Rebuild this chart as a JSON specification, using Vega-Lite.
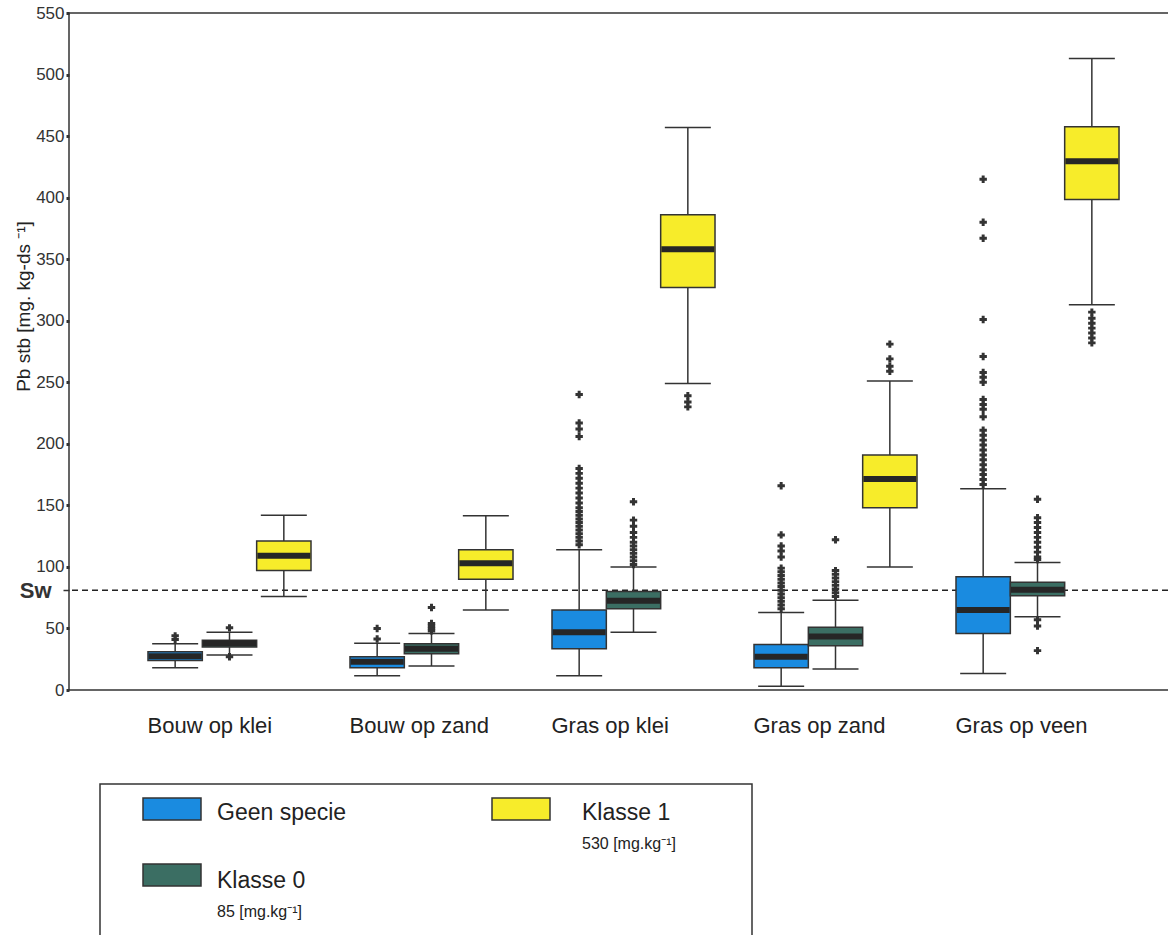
{
  "$schema": "https://vega.github.io/schema/vega-lite/v6.json",
  "padding": {"left": 13, "top": 3, "right": 0, "bottom": 0},
  "background": "white",
  "config": {"font": "Liberation Sans", "concat": {"spacing": 46}},
  "datasets": {
    "sw": [{"v": 81}],
    "stats": [
      {"cat": "Bouw op klei", "series": "Geen specie", "lw": 18, "q1": 24, "med": 27.5, "q3": 31, "uw": 37.5},
      {"cat": "Bouw op klei", "series": "Klasse 0", "lw": 28.5, "q1": 35, "med": 38, "q3": 40.5, "uw": 47},
      {"cat": "Bouw op klei", "series": "Klasse 1", "lw": 76, "q1": 97, "med": 109, "q3": 121, "uw": 142},
      {"cat": "Bouw op zand", "series": "Geen specie", "lw": 11.5, "q1": 18, "med": 23, "q3": 27, "uw": 38},
      {"cat": "Bouw op zand", "series": "Klasse 0", "lw": 19.5, "q1": 29.5, "med": 33.5, "q3": 37.5, "uw": 46},
      {"cat": "Bouw op zand", "series": "Klasse 1", "lw": 65, "q1": 90, "med": 103, "q3": 114, "uw": 141.5},
      {"cat": "Gras op klei", "series": "Geen specie", "lw": 11.5, "q1": 33.5, "med": 47, "q3": 65, "uw": 114},
      {"cat": "Gras op klei", "series": "Klasse 0", "lw": 47, "q1": 66, "med": 72.5, "q3": 80, "uw": 100},
      {"cat": "Gras op klei", "series": "Klasse 1", "lw": 249, "q1": 327, "med": 358, "q3": 386, "uw": 457},
      {"cat": "Gras op zand", "series": "Geen specie", "lw": 3, "q1": 18, "med": 27, "q3": 37, "uw": 63},
      {"cat": "Gras op zand", "series": "Klasse 0", "lw": 17, "q1": 36, "med": 43.5, "q3": 51, "uw": 73},
      {"cat": "Gras op zand", "series": "Klasse 1", "lw": 100, "q1": 148, "med": 171.5, "q3": 191, "uw": 251},
      {"cat": "Gras op veen", "series": "Geen specie", "lw": 13.5, "q1": 46, "med": 65, "q3": 92, "uw": 163.5},
      {"cat": "Gras op veen", "series": "Klasse 0", "lw": 59.5, "q1": 76.5, "med": 81.5, "q3": 87.5, "uw": 103.5},
      {"cat": "Gras op veen", "series": "Klasse 1", "lw": 313, "q1": 398.5, "med": 429.5, "q3": 457.5, "uw": 513}
    ],
    "outliers": [
      {"cat": "Bouw op klei", "series": "Geen specie", "v": 41},
      {"cat": "Bouw op klei", "series": "Geen specie", "v": 44},
      {"cat": "Bouw op klei", "series": "Klasse 0", "v": 50.5},
      {"cat": "Bouw op klei", "series": "Klasse 0", "v": 27},
      {"cat": "Bouw op zand", "series": "Geen specie", "v": 41.5},
      {"cat": "Bouw op zand", "series": "Geen specie", "v": 50},
      {"cat": "Bouw op zand", "series": "Klasse 0", "v": 48},
      {"cat": "Bouw op zand", "series": "Klasse 0", "v": 50},
      {"cat": "Bouw op zand", "series": "Klasse 0", "v": 52},
      {"cat": "Bouw op zand", "series": "Klasse 0", "v": 54},
      {"cat": "Bouw op zand", "series": "Klasse 0", "v": 67},
      {"cat": "Gras op klei", "series": "Geen specie", "v": 240},
      {"cat": "Gras op klei", "series": "Geen specie", "v": 217},
      {"cat": "Gras op klei", "series": "Geen specie", "v": 212},
      {"cat": "Gras op klei", "series": "Geen specie", "v": 206},
      {"cat": "Gras op klei", "series": "Geen specie", "v": 180},
      {"cat": "Gras op klei", "series": "Geen specie", "v": 176},
      {"cat": "Gras op klei", "series": "Geen specie", "v": 172},
      {"cat": "Gras op klei", "series": "Geen specie", "v": 168},
      {"cat": "Gras op klei", "series": "Geen specie", "v": 164},
      {"cat": "Gras op klei", "series": "Geen specie", "v": 160},
      {"cat": "Gras op klei", "series": "Geen specie", "v": 156},
      {"cat": "Gras op klei", "series": "Geen specie", "v": 152},
      {"cat": "Gras op klei", "series": "Geen specie", "v": 148},
      {"cat": "Gras op klei", "series": "Geen specie", "v": 145},
      {"cat": "Gras op klei", "series": "Geen specie", "v": 142},
      {"cat": "Gras op klei", "series": "Geen specie", "v": 139},
      {"cat": "Gras op klei", "series": "Geen specie", "v": 136},
      {"cat": "Gras op klei", "series": "Geen specie", "v": 133},
      {"cat": "Gras op klei", "series": "Geen specie", "v": 130},
      {"cat": "Gras op klei", "series": "Geen specie", "v": 127},
      {"cat": "Gras op klei", "series": "Geen specie", "v": 124},
      {"cat": "Gras op klei", "series": "Geen specie", "v": 121},
      {"cat": "Gras op klei", "series": "Geen specie", "v": 118},
      {"cat": "Gras op klei", "series": "Klasse 0", "v": 153},
      {"cat": "Gras op klei", "series": "Klasse 0", "v": 138},
      {"cat": "Gras op klei", "series": "Klasse 0", "v": 133},
      {"cat": "Gras op klei", "series": "Klasse 0", "v": 128},
      {"cat": "Gras op klei", "series": "Klasse 0", "v": 124},
      {"cat": "Gras op klei", "series": "Klasse 0", "v": 120},
      {"cat": "Gras op klei", "series": "Klasse 0", "v": 117},
      {"cat": "Gras op klei", "series": "Klasse 0", "v": 114},
      {"cat": "Gras op klei", "series": "Klasse 0", "v": 111},
      {"cat": "Gras op klei", "series": "Klasse 0", "v": 108},
      {"cat": "Gras op klei", "series": "Klasse 0", "v": 105},
      {"cat": "Gras op klei", "series": "Klasse 0", "v": 102},
      {"cat": "Gras op klei", "series": "Klasse 1", "v": 239},
      {"cat": "Gras op klei", "series": "Klasse 1", "v": 234},
      {"cat": "Gras op klei", "series": "Klasse 1", "v": 230},
      {"cat": "Gras op zand", "series": "Geen specie", "v": 166},
      {"cat": "Gras op zand", "series": "Geen specie", "v": 126},
      {"cat": "Gras op zand", "series": "Geen specie", "v": 117},
      {"cat": "Gras op zand", "series": "Geen specie", "v": 113},
      {"cat": "Gras op zand", "series": "Geen specie", "v": 108},
      {"cat": "Gras op zand", "series": "Geen specie", "v": 99},
      {"cat": "Gras op zand", "series": "Geen specie", "v": 96},
      {"cat": "Gras op zand", "series": "Geen specie", "v": 93},
      {"cat": "Gras op zand", "series": "Geen specie", "v": 90},
      {"cat": "Gras op zand", "series": "Geen specie", "v": 87},
      {"cat": "Gras op zand", "series": "Geen specie", "v": 84},
      {"cat": "Gras op zand", "series": "Geen specie", "v": 81},
      {"cat": "Gras op zand", "series": "Geen specie", "v": 78},
      {"cat": "Gras op zand", "series": "Geen specie", "v": 75},
      {"cat": "Gras op zand", "series": "Geen specie", "v": 72},
      {"cat": "Gras op zand", "series": "Geen specie", "v": 69},
      {"cat": "Gras op zand", "series": "Geen specie", "v": 66},
      {"cat": "Gras op zand", "series": "Klasse 0", "v": 122},
      {"cat": "Gras op zand", "series": "Klasse 0", "v": 97},
      {"cat": "Gras op zand", "series": "Klasse 0", "v": 94},
      {"cat": "Gras op zand", "series": "Klasse 0", "v": 91},
      {"cat": "Gras op zand", "series": "Klasse 0", "v": 88},
      {"cat": "Gras op zand", "series": "Klasse 0", "v": 85},
      {"cat": "Gras op zand", "series": "Klasse 0", "v": 82},
      {"cat": "Gras op zand", "series": "Klasse 0", "v": 79},
      {"cat": "Gras op zand", "series": "Klasse 0", "v": 76},
      {"cat": "Gras op zand", "series": "Klasse 1", "v": 281},
      {"cat": "Gras op zand", "series": "Klasse 1", "v": 269},
      {"cat": "Gras op zand", "series": "Klasse 1", "v": 263},
      {"cat": "Gras op zand", "series": "Klasse 1", "v": 259},
      {"cat": "Gras op veen", "series": "Geen specie", "v": 415},
      {"cat": "Gras op veen", "series": "Geen specie", "v": 380},
      {"cat": "Gras op veen", "series": "Geen specie", "v": 367},
      {"cat": "Gras op veen", "series": "Geen specie", "v": 301},
      {"cat": "Gras op veen", "series": "Geen specie", "v": 271},
      {"cat": "Gras op veen", "series": "Geen specie", "v": 258},
      {"cat": "Gras op veen", "series": "Geen specie", "v": 254},
      {"cat": "Gras op veen", "series": "Geen specie", "v": 250},
      {"cat": "Gras op veen", "series": "Geen specie", "v": 236},
      {"cat": "Gras op veen", "series": "Geen specie", "v": 232},
      {"cat": "Gras op veen", "series": "Geen specie", "v": 228},
      {"cat": "Gras op veen", "series": "Geen specie", "v": 222},
      {"cat": "Gras op veen", "series": "Geen specie", "v": 211},
      {"cat": "Gras op veen", "series": "Geen specie", "v": 207},
      {"cat": "Gras op veen", "series": "Geen specie", "v": 203},
      {"cat": "Gras op veen", "series": "Geen specie", "v": 199},
      {"cat": "Gras op veen", "series": "Geen specie", "v": 195},
      {"cat": "Gras op veen", "series": "Geen specie", "v": 191},
      {"cat": "Gras op veen", "series": "Geen specie", "v": 187},
      {"cat": "Gras op veen", "series": "Geen specie", "v": 183},
      {"cat": "Gras op veen", "series": "Geen specie", "v": 179},
      {"cat": "Gras op veen", "series": "Geen specie", "v": 175},
      {"cat": "Gras op veen", "series": "Geen specie", "v": 171},
      {"cat": "Gras op veen", "series": "Geen specie", "v": 167},
      {"cat": "Gras op veen", "series": "Klasse 0", "v": 155},
      {"cat": "Gras op veen", "series": "Klasse 0", "v": 140},
      {"cat": "Gras op veen", "series": "Klasse 0", "v": 136},
      {"cat": "Gras op veen", "series": "Klasse 0", "v": 132},
      {"cat": "Gras op veen", "series": "Klasse 0", "v": 128},
      {"cat": "Gras op veen", "series": "Klasse 0", "v": 124},
      {"cat": "Gras op veen", "series": "Klasse 0", "v": 120},
      {"cat": "Gras op veen", "series": "Klasse 0", "v": 116},
      {"cat": "Gras op veen", "series": "Klasse 0", "v": 112},
      {"cat": "Gras op veen", "series": "Klasse 0", "v": 108},
      {"cat": "Gras op veen", "series": "Klasse 0", "v": 106},
      {"cat": "Gras op veen", "series": "Klasse 0", "v": 57},
      {"cat": "Gras op veen", "series": "Klasse 0", "v": 52},
      {"cat": "Gras op veen", "series": "Klasse 0", "v": 32},
      {"cat": "Gras op veen", "series": "Klasse 1", "v": 307},
      {"cat": "Gras op veen", "series": "Klasse 1", "v": 302},
      {"cat": "Gras op veen", "series": "Klasse 1", "v": 298},
      {"cat": "Gras op veen", "series": "Klasse 1", "v": 294},
      {"cat": "Gras op veen", "series": "Klasse 1", "v": 290},
      {"cat": "Gras op veen", "series": "Klasse 1", "v": 286},
      {"cat": "Gras op veen", "series": "Klasse 1", "v": 282}
    ],
    "legend": [
      {"series": "Geen specie", "col": "1", "row": "1", "sub": ""},
      {"series": "Klasse 1", "col": "2", "row": "1", "sub": "530 [mg.kg⁻¹]"},
      {"series": "Klasse 0", "col": "1", "row": "2", "sub": "85 [mg.kg⁻¹]"}
    ]
  },
  "vconcat": [
    {
      "width": 1129,
      "height": 677,
      "view": {"stroke": "#333", "strokeWidth": 1.5},
      "layer": [
        {
          "data": {"name": "sw"},
          "mark": {"type": "rule", "strokeDash": [6, 4], "color": "#222", "strokeWidth": 1.5},
          "encoding": {
            "y": {
              "field": "v", "type": "quantitative",
              "scale": {"domain": [0, 550], "nice": false, "zero": true},
              "axis": {
                "title": "Pb stb [mg. kg-ds ⁻¹]",
                "titleFont": "Liberation Sans", "titleFontSize": 19, "titleFontWeight": "normal", "titleColor": "#222",
                "titleX": -46, "titleY": 293, "titleAngle": -90, "titleAlign": "center", "titleBaseline": "middle",
                "values": [0, 50, 100, 150, 200, 250, 300, 350, 400, 450, 500, 550, 81],
                "labelExpr": "datum.value == 81 ? 'Sw' : datum.label",
                "labelOverlap": false,
                "labelColor": "#333",
                "labelFont": {"condition": {"test": "datum.value == 81", "value": "Liberation Sans"}, "value": "Liberation Sans Narrow, Liberation Sans"},
                "labelFontSize": {"condition": {"test": "datum.value == 81", "value": 22}, "value": 17},
                "labelFontWeight": {"condition": {"test": "datum.value == 81", "value": "bold"}, "value": "normal"},
                "labelPadding": {"condition": {"test": "datum.value == 81", "value": 8}, "value": 2},
                "tickSize": {"condition": {"test": "datum.value == 81", "value": 10}, "value": 3},
                "tickWidth": {"condition": {"test": "datum.value == 81", "value": 1.5}, "value": 3},
                "tickDash": {"condition": {"test": "datum.value == 81", "value": [6, 4]}, "value": []},
                "tickColor": "#333",
                "domain": false,
                "grid": false
              }
            }
          }
        },
        {
          "data": {"name": "stats"},
          "mark": {"type": "rule", "color": "#333", "strokeWidth": 1.5},
          "encoding": {
            "x": {
              "field": "cat", "type": "nominal",
              "sort": ["Bouw op klei", "Bouw op zand", "Gras op klei", "Gras op zand", "Gras op veen"],
              "scale": {"paddingInner": 0.193, "paddingOuter": 0.391},
              "axis": {
                "title": null, "labelAngle": 0, "labelAlign": "left", "labelOffset": -82, "labelBaseline": "top",
                "labelFontSize": 22, "labelFont": "Liberation Sans", "labelColor": "#222", "labelPadding": 25,
                "ticks": false, "domain": false
              }
            },
            "xOffset": {"field": "series", "type": "nominal", "sort": ["Geen specie", "Klasse 0", "Klasse 1"], "scale": {"paddingInner": 0, "paddingOuter": 0}},
            "y": {"field": "lw", "type": "quantitative"},
            "y2": {"field": "uw"}
          }
        },
        {
          "data": {"name": "stats"},
          "mark": {"type": "tick", "color": "#333", "thickness": 1.5, "size": 46, "opacity": 1},
          "encoding": {
            "x": {"field": "cat", "type": "nominal", "sort": ["Bouw op klei", "Bouw op zand", "Gras op klei", "Gras op zand", "Gras op veen"]},
            "xOffset": {"field": "series", "type": "nominal", "sort": ["Geen specie", "Klasse 0", "Klasse 1"]},
            "y": {"field": "uw", "type": "quantitative"}
          }
        },
        {
          "data": {"name": "stats"},
          "mark": {"type": "tick", "color": "#333", "thickness": 1.5, "size": 46, "opacity": 1},
          "encoding": {
            "x": {"field": "cat", "type": "nominal", "sort": ["Bouw op klei", "Bouw op zand", "Gras op klei", "Gras op zand", "Gras op veen"]},
            "xOffset": {"field": "series", "type": "nominal", "sort": ["Geen specie", "Klasse 0", "Klasse 1"]},
            "y": {"field": "lw", "type": "quantitative"}
          }
        },
        {
          "data": {"name": "stats"},
          "mark": {"type": "bar", "stroke": "#333", "strokeWidth": 1.5, "opacity": 1},
          "encoding": {
            "x": {"field": "cat", "type": "nominal", "sort": ["Bouw op klei", "Bouw op zand", "Gras op klei", "Gras op zand", "Gras op veen"]},
            "xOffset": {"field": "series", "type": "nominal", "sort": ["Geen specie", "Klasse 0", "Klasse 1"]},
            "y": {"field": "q1", "type": "quantitative"},
            "y2": {"field": "q3"},
            "color": {
              "field": "series", "type": "nominal",
              "scale": {"domain": ["Geen specie", "Klasse 0", "Klasse 1"], "range": ["#1a8be0", "#3b6e63", "#f7ec2a"]},
              "legend": null
            }
          }
        },
        {
          "data": {"name": "stats"},
          "mark": {"type": "tick", "color": "#262626", "thickness": 6, "size": 53, "opacity": 1},
          "encoding": {
            "x": {"field": "cat", "type": "nominal", "sort": ["Bouw op klei", "Bouw op zand", "Gras op klei", "Gras op zand", "Gras op veen"]},
            "xOffset": {"field": "series", "type": "nominal", "sort": ["Geen specie", "Klasse 0", "Klasse 1"]},
            "y": {"field": "med", "type": "quantitative"}
          }
        },
        {
          "data": {"name": "outliers"},
          "mark": {"type": "point", "shape": "cross", "filled": true, "color": "#333", "size": 55, "opacity": 1},
          "encoding": {
            "x": {"field": "cat", "type": "nominal", "sort": ["Bouw op klei", "Bouw op zand", "Gras op klei", "Gras op zand", "Gras op veen"]},
            "xOffset": {"field": "series", "type": "nominal", "sort": ["Geen specie", "Klasse 0", "Klasse 1"]},
            "y": {"field": "v", "type": "quantitative"}
          }
        }
      ]
    },
    {
      "hconcat": [
        {
          "width": 30, "height": 10,
          "view": {"stroke": null},
          "data": {"values": []},
          "mark": "point",
          "encoding": {}
        },
        {
          "width": 652, "height": 165,
          "view": {"stroke": "#333", "strokeWidth": 1.5},
          "data": {"name": "legend"},
          "layer": [
            {
              "mark": {"type": "point", "shape": "M-1,-0.38H1V0.38H-1Z", "filled": true, "size": 3364, "stroke": "#333", "strokeWidth": 1.5, "opacity": 1},
              "encoding": {
                "x": {"field": "col", "type": "ordinal", "scale": {"type": "point", "domain": ["1", "2"], "range": [72, 421], "padding": 0}, "axis": null},
                "y": {"field": "row", "type": "ordinal", "scale": {"type": "point", "domain": ["1", "2"], "range": [25, 91], "padding": 0}, "axis": null},
                "color": {
                  "field": "series", "type": "nominal",
                  "scale": {"domain": ["Geen specie", "Klasse 0", "Klasse 1"], "range": ["#1a8be0", "#3b6e63", "#f7ec2a"]},
                  "legend": null
                }
              }
            },
            {
              "mark": {"type": "text", "align": "left", "baseline": "middle", "fontSize": 23, "font": "Liberation Sans", "color": "#222"},
              "encoding": {
                "x": {"field": "col", "type": "ordinal", "scale": {"type": "point", "domain": ["1", "2"], "range": [117, 482], "padding": 0}, "axis": null},
                "y": {"field": "row", "type": "ordinal", "scale": {"type": "point", "domain": ["1", "2"], "range": [29, 97], "padding": 0}, "axis": null},
                "text": {"field": "series"}
              }
            },
            {
              "mark": {"type": "text", "align": "left", "baseline": "middle", "fontSize": 16, "font": "Liberation Sans", "color": "#222", "dy": 31},
              "encoding": {
                "x": {"field": "col", "type": "ordinal", "scale": {"type": "point", "domain": ["1", "2"], "range": [117, 482], "padding": 0}, "axis": null},
                "y": {"field": "row", "type": "ordinal", "scale": {"type": "point", "domain": ["1", "2"], "range": [29, 97], "padding": 0}, "axis": null},
                "text": {"field": "sub"}
              }
            }
          ],
          "resolve": {"scale": {"x": "independent", "y": "independent"}}
        }
      ],
      "spacing": 0
    }
  ]
}
